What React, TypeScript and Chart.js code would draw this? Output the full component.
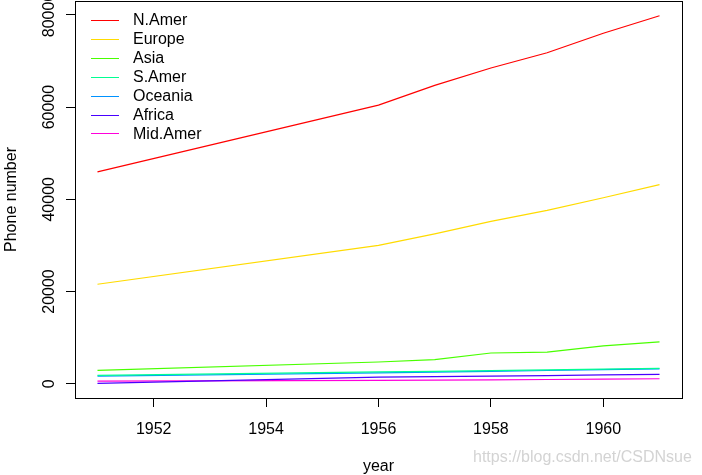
import React, { useEffect, useRef } from "react";
import { Chart, registerables } from "chart.js";

Chart.register(...registerables);

const years = [1951, 1956, 1957, 1958, 1959, 1960, 1961];
const regions = ["N.Amer", "Europe", "Asia", "S.Amer", "Oceania", "Africa", "Mid.Amer"];
const nAmer = [45939, 60423, 64721, 68484, 71799, 76036, 79831];
const europe = [21574, 29990, 32510, 35218, 37598, 40341, 43173];
const asia = [2876, 4708, 5230, 6662, 6856, 8220, 9053];
const sAmer = [1815, 2568, 2695, 2845, 3000, 3145, 3338];
const oceania = [1646, 2366, 2526, 2691, 2868, 3054, 3224];
const africa = [89, 1411, 1546, 1663, 1769, 1905, 2005];
const midAmer = [555, 733, 773, 836, 911, 1008, 1076];
const seriesValues = [nAmer, europe, asia, sAmer, oceania, africa, midAmer];
const colors = ["#FF0000", "#FFDB00", "#49FF00", "#00FF92", "#0092FF", "#4900FF", "#FF00DB"];
const xTicks = [1952, 1954, 1956, 1958, 1960];
const yTicks = [0, 20000, 40000, 60000, 80000];

const FONT = "Arial, 'Liberation Sans', sans-serif";

const overlay = {
  id: "overlay",
  afterDraw(chart: any) {
    const ctx = chart.ctx;
    const a = chart.chartArea;
    const ys = chart.scales.y;
    ctx.save();
    ctx.strokeStyle = "#000";
    ctx.lineWidth = 1;
    ctx.strokeRect(Math.round(a.left) + 0.5, Math.round(a.top) + 0.5, Math.round(a.right - a.left), Math.round(a.bottom - a.top));
    ctx.fillStyle = "#000";
    ctx.font = "16px " + FONT;
    ctx.textAlign = "center";
    ctx.textBaseline = "middle";
    yTicks.forEach((v) => {
      const py = ys.getPixelForValue(v);
      ctx.save();
      ctx.translate(50, py);
      ctx.rotate(-Math.PI / 2);
      ctx.fillText(String(v), 0, 0);
      ctx.restore();
    });
    ctx.fillText("year", (a.left + a.right) / 2, 467);
    ctx.save();
    ctx.translate(12, (a.top + a.bottom) / 2);
    ctx.rotate(-Math.PI / 2);
    ctx.fillText("Phone number", 0, 0);
    ctx.restore();
    ctx.textAlign = "left";
    chart.data.datasets.forEach((ds: any, i: number) => {
      const y = 20 + i * 18.9;
      ctx.strokeStyle = ds.borderColor;
      ctx.lineWidth = 1;
      ctx.beginPath();
      ctx.moveTo(91, Math.round(y) + 0.5);
      ctx.lineTo(119, Math.round(y) + 0.5);
      ctx.stroke();
      ctx.fillStyle = "#000";
      ctx.fillText(ds.label, 133, y + 1);
    });
    ctx.fillStyle = "rgba(200,200,200,0.8)";
    ctx.font = "16px " + FONT;
    ctx.fillText("https://blog.csdn.net/CSDNsue", 473, 458);
    ctx.restore();
  },
};

export default function App() {
  const ref = useRef<HTMLCanvasElement>(null);
  useEffect(() => {
    document.body.style.margin = "0";
    const chart = new Chart(ref.current!, {
      type: "line",
      data: {
        datasets: regions.map((r, i) => ({
          label: r,
          data: years.map((y, j) => ({ x: y, y: seriesValues[i][j] })),
          borderColor: colors[i],
          backgroundColor: colors[i],
          borderWidth: 1.2,
          pointRadius: 0,
          tension: 0,
          fill: false,
        })),
      },
      options: {
        animation: false,
        responsive: false,
        layout: { padding: { top: 1, right: 20, left: 0, bottom: 0 } },
        plugins: { legend: { display: false }, tooltip: { enabled: false } },
        scales: {
          x: {
            type: "linear",
            min: 1950.6,
            max: 1961.4,
            afterFit: (s: any) => { s.height = 77; },
            afterBuildTicks: (s: any) => { s.ticks = xTicks.map((v) => ({ value: v })); },
            grid: { display: true, drawOnChartArea: false, drawTicks: true, tickLength: 9, color: "#000" },
            border: { display: false },
            ticks: {
              color: "#000",
              font: { size: 16, family: FONT },
              padding: 13,
              maxRotation: 0,
              autoSkip: false,
              includeBounds: false,
              callback: (v: any) => String(v),
            },
          },
          y: {
            type: "linear",
            min: -3101,
            max: 83021,
            afterFit: (s: any) => { s.width = 75; },
            afterBuildTicks: (s: any) => { s.ticks = yTicks.map((v) => ({ value: v })); },
            grid: { display: true, drawOnChartArea: false, drawTicks: true, tickLength: 9, color: "#000" },
            border: { display: false },
            ticks: { display: false },
          },
        },
      },
      plugins: [overlay],
    } as any);
    return () => chart.destroy();
  }, []);
  return (
    <div style={{ position: "absolute", left: 0, top: 0, width: 702, height: 475 }}>
      <canvas ref={ref} width={702} height={475} style={{ width: 702, height: 475 }} />
    </div>
  );
}
